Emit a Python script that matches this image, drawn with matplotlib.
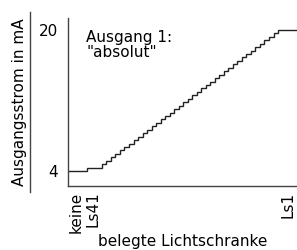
import numpy as np
import matplotlib.pyplot as plt
from matplotlib.lines import Line2D

# Ausgangsstrom je Zustand (keine, Ls41 ... Ls1), in mA
strom = [4.00, 4.39, 4.78, 5.17, 5.56, 5.95, 6.34, 6.73, 7.12, 7.51,
         7.90, 8.29, 8.68, 9.07, 9.46, 9.85, 10.24, 10.63, 11.02, 11.41,
         11.80, 12.20, 12.59, 12.98, 13.37, 13.76, 14.15, 14.54, 14.93, 15.32,
         15.71, 16.10, 16.49, 16.88, 17.27, 17.66, 18.05, 18.44, 18.83, 19.22,
         19.61, 20.00]
# Breite der Plateaus je Zustand
breite = [4.2, 3.3] + [1.0] * 39 + [4.2]
kanten = np.concatenate([[0], np.cumsum(breite)])

tick_pos = [1.8, 5.6, 48.7]
tick_lab = ['keine', 'Ls41', 'Ls1']
y_ticks = [4, 20]

fs = 11

fig = plt.figure(figsize=(2.97, 2.5), dpi=100)
ax = fig.add_axes([0.229, 0.256, 0.771, 0.672])

ax.stairs(strom, kanten, baseline=None, color='#222222', linewidth=1.0)

ax.set_xlim(0, kanten[-1])
ax.set_ylim(2.3, 21.36)
ax.set_yticks(y_ticks)
ax.set_yticklabels([str(v) for v in y_ticks], fontsize=fs)
ax.set_xticks(tick_pos)
ax.set_xticklabels(tick_lab, rotation=90, fontsize=fs, va='top')
ax.tick_params(length=0)
ax.tick_params(axis='y', pad=7)
ax.tick_params(axis='x', pad=4)

for s in ['top', 'right']:
    ax.spines[s].set_visible(False)
for s in ['left', 'bottom']:
    ax.spines[s].set_color('#444444')
    ax.spines[s].set_linewidth(1.0)

ax.set_xlabel('belegte Lichtschranke', fontsize=fs, labelpad=1)
ax.set_ylabel('Ausgangsstrom in mA', fontsize=fs, labelpad=9)

ax.text(0.079, 0.93, 'Ausgang 1:\n"absolut"', transform=ax.transAxes,
        fontsize=fs, va='top', ha='left', linespacing=1.0)

# Strich neben der y-Beschriftung
fig.add_artist(Line2D([30 / 297, 30 / 297], [1 - 12 / 250, 1 - 192 / 250],
                      color='#444444', linewidth=1.0))

fig.savefig('out.png', dpi=100)
